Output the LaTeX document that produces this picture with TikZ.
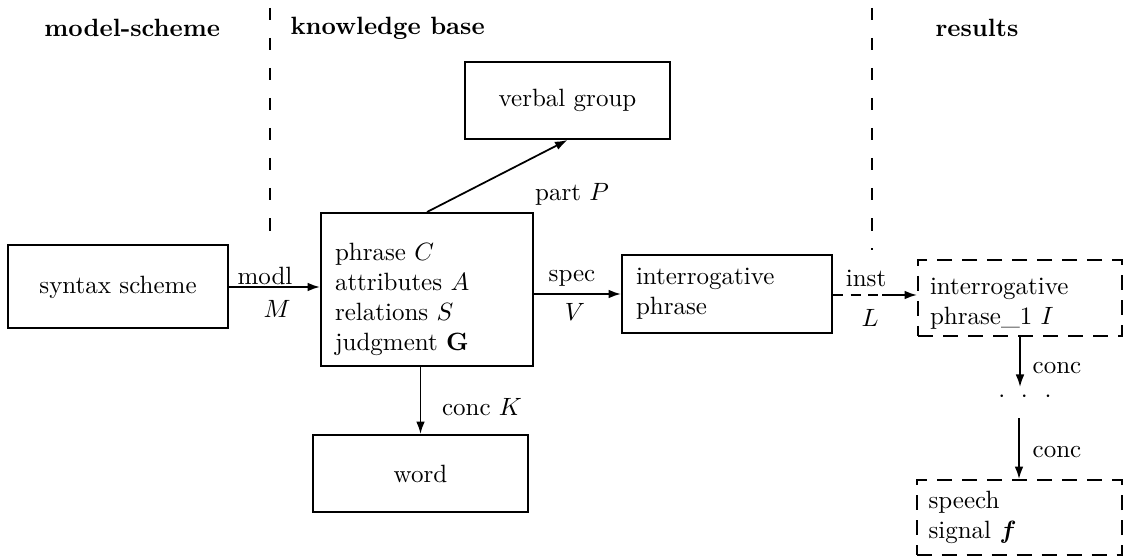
\documentclass[tikz,border=0pt]{standalone}
\usepackage{bm}
\usetikzlibrary{arrows.meta}
\begin{document}
\begin{tikzpicture}[x=0.4pt,y=-0.4pt,
  box/.style={draw, line width=0.8pt, inner sep=0pt, align=center},
  lbox/.style={draw, line width=0.8pt, inner ysep=0pt, align=left},
  dbox/.style={lbox, dash pattern=on 6pt off 4pt},
  arr/.style={line width=0.7pt, -{Latex[length=5pt,width=3.5pt]}},
  lab/.style={inner sep=1pt},
  sepline/.style={line width=0.8pt, dash pattern=on 5pt off 7pt},
  head/.style={font=\bfseries, anchor=west, inner sep=0pt}]
\useasboundingbox (0,0) rectangle (1124,558);

% headings
\node[head] (hmodel) at (44,28) {model-scheme};
\node[head] (hkb) at (290,28) {knowledge base};
\node[head] (hres) at (935,28) {results};

% separators
\coordinate (s1t) at (270,8);
\coordinate (s1b) at (270,240);
\coordinate (s2t) at (872,8);
\coordinate (s2b) at (872,250);
\draw[sepline] (s1t) -- (s1b);
\draw[sepline] (s2t) -- (s2b);

% boxes
\node[box, minimum width=88pt, minimum height=33.2pt] (syn) at (118,287) {syntax scheme};
\node[lbox, text width=73.6pt, inner xsep=5.6pt, minimum height=61.2pt] (phr) at (427,289.5)
  {\rule{0pt}{15pt}phrase $C$\\ attributes $A$\\ relations $S$\\ judgment $\mathbf{G}$};
\node[box, minimum width=82pt, minimum height=30.8pt] (verb) at (567.5,100.5) {verbal group};
\node[box, minimum width=86pt, minimum height=30.8pt] (word) at (420.5,473.5) {word};
\node[lbox, text width=72.8pt, inner xsep=5.6pt, minimum height=31.2pt] (int) at (727,294)
  {interrogative\\ phrase};
\node[dbox, text width=72pt, inner xsep=4.8pt, minimum height=30.4pt] (int1) at (1020,298)
  {\rule{0pt}{11pt}interrogative\\ phrase\_1 $I$};
\node[dbox, text width=72.4pt, inner xsep=4.8pt, minimum height=30pt] (sp) at (1019,517.5)
  {speech\\ signal $\bm{f}$};

% connectors
\draw[arr] (syn.east) -- (phr.west |- syn.east);
\node[lab] (lmodl) at (265,276) {modl};
\node[lab] (lM) at (277,309) {$M$};

\draw[arr] (phr.east |- int.west) -- (int.west);
\node[lab] (lspec) at (572,278) {spec};
\node[lab] (lV) at (575,312) {$V$};

\draw[arr] (phr.north) -- (verb.south);
\node[lab] (lpart) at (572,194) {part $P$};

\draw[arr] (word.north |- phr.south) -- (word.north);
\node[lab] (lK) at (482,407) {conc $K$};

\coordinate (im) at (882,295);
\draw[line width=0.7pt, dash pattern=on 4pt off 3pt] (int.east |- im) -- (im);
\draw[arr] (im) -- (int1.west |- im);
\node[lab] (linst) at (866,278) {inst};
\node[lab] (lL) at (870,318) {$L$};

\coordinate (c1) at (1020,387);
\draw[arr] (int1.south) -- (c1);
\node[lab] (lc1) at (1057,368) {conc};
\node[inner sep=0pt] (dots) at (1025,397) {$\cdot\hspace{4pt}\cdot\hspace{4.5pt}\cdot$};
\coordinate (c2) at (1019,418);
\draw[arr] (c2) -- (sp.north);
\node[lab] (lc2) at (1057,452) {conc};
\end{tikzpicture}
\end{document}
